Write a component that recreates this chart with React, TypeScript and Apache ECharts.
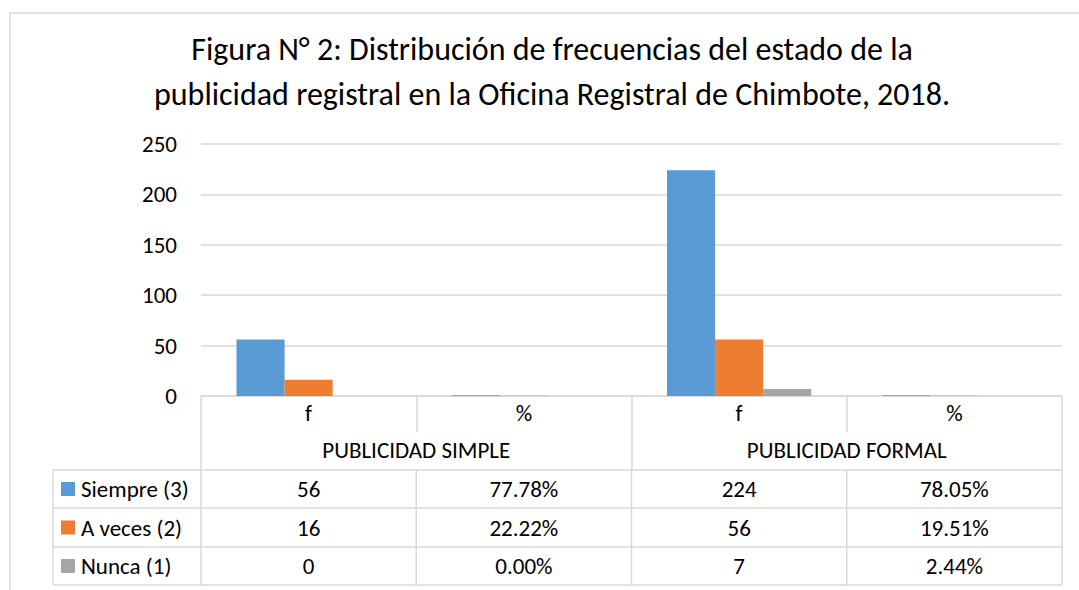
import React, { useEffect, useRef } from "react";
import * as echarts from "echarts";

const categories = ["f", "%", "f", "%"];
const groups = ["PUBLICIDAD SIMPLE", "PUBLICIDAD FORMAL"];
const seriesNames = ["Siempre (3)", "A veces (2)", "Nunca (1)"];
const siempre = [56, 0.7778, 224, 0.7805];
const aVeces = [16, 0.2222, 56, 0.1951];
const nunca = [0, 0, 7, 0.0244];
const yTicks = [0, 50, 100, 150, 200, 250];
const titleText =
  "Figura N° 2: Distribución de frecuencias del estado de la\npublicidad registral en la Oficina Registral de Chimbote, 2018.";

const colors = ["#5B9BD5", "#ED7D31", "#A5A5A5"];
const FONT = 'Carlito, "Open Sans", sans-serif';
const LINE = "#D9D9D9";
const FS = 23;

export default function App() {
  const ref = useRef<HTMLDivElement>(null);
  useEffect(() => {
    if (!ref.current) return;
    const chart = echarts.init(ref.current, null, { renderer: "svg" });
    const W = 1079;
    const H = 590;
    const gridLeft = 201;
    const gridRight = 1062;
    const gridTop = 144;
    const gridBottom = 396;
    const allSeries = [siempre, aVeces, nunca];

    const fmt = (v: number, ci: number) =>
      categories[ci] === "%" ? (v * 100).toFixed(2) + "%" : String(v);

    const option: any = {
      animation: false,
      textStyle: { fontFamily: FONT },
      title: {
        text: titleText,
        left: 547,
        textAlign: "center",
        top: 22,
        textStyle: {
          fontFamily: FONT,
          fontSize: 32,
          fontWeight: "normal",
          color: "#000",
          lineHeight: 45,
        },
      },
      grid: {
        left: gridLeft,
        right: W - gridRight,
        top: gridTop,
        bottom: H - gridBottom,
        containLabel: false,
      },
      xAxis: [
        {
          type: "category",
          data: categories,
          axisLine: { lineStyle: { color: LINE, width: 1.5 } },
          axisTick: { show: true, length: 36, lineStyle: { color: LINE, width: 1.5 } },
          axisLabel: { color: "#000", fontSize: FS, margin: 5, fontFamily: FONT },
        },
        {
          type: "category",
          data: groups,
          position: "bottom",
          offset: 36,
          axisLine: { show: false },
          axisTick: { show: true, length: 38, lineStyle: { color: LINE, width: 1.5 } },
          axisLabel: { color: "#000", fontSize: FS, margin: 6, fontFamily: FONT },
        },
      ],
      yAxis: {
        type: "value",
        min: yTicks[0],
        max: yTicks[yTicks.length - 1],
        interval: 50,
        axisLine: { show: false },
        axisTick: { show: false },
        splitLine: { lineStyle: { color: LINE, width: 1.5 } },
        axisLabel: { color: "#000", fontSize: FS, margin: 24, fontFamily: FONT },
      },
      series: allSeries.map((d, i) => ({
        name: seriesNames[i],
        type: "bar",
        xAxisIndex: 0,
        data: d,
        itemStyle: { color: colors[i] },
        barGap: "0%",
        barCategoryGap: "33%",
      })),
    };

    chart.setOption(option);

    const rowTops = [470, 508, 547];
    const tableBottom = 585;
    const tableLeft = 53;
    const g: any[] = [];
    g.push({
      type: "rect",
      shape: { x: 10, y: 13, width: 1100, height: 600 },
      style: { fill: "none", stroke: LINE, lineWidth: 1.5 },
      silent: true,
    });
    const centers: number[] = categories.map(
      (_, i) => chart.convertToPixel({ xAxisIndex: 0 }, i) as number
    );
    const colW = (gridRight - gridLeft) / categories.length;
    const bounds = [gridLeft];
    for (let i = 0; i < categories.length; i++) bounds.push(gridLeft + colW * (i + 1));
    [...rowTops, tableBottom].forEach((y) =>
      g.push({
        type: "line",
        shape: { x1: tableLeft, y1: y, x2: gridRight, y2: y },
        style: { stroke: LINE, lineWidth: 1.5 },
        silent: true,
      })
    );
    [tableLeft, ...bounds].forEach((x) =>
      g.push({
        type: "line",
        shape: { x1: x, y1: rowTops[0], x2: x, y2: tableBottom },
        style: { stroke: LINE, lineWidth: 1.5 },
        silent: true,
      })
    );
    const rowBottoms = [rowTops[1], rowTops[2], tableBottom];
    allSeries.forEach((d, r) => {
      const cy = (rowTops[r] + rowBottoms[r]) / 2;
      g.push({
        type: "rect",
        shape: { x: 61, y: cy - 7, width: 14, height: 14 },
        style: { fill: colors[r] },
        silent: true,
      });
      g.push({
        type: "text",
        x: 81,
        y: cy,
        style: {
          text: seriesNames[r],
          fontSize: FS,
          fontFamily: FONT,
          fill: "#000",
          verticalAlign: "middle",
          align: "left",
        },
        silent: true,
      });
      d.forEach((v, ci) => {
        g.push({
          type: "text",
          x: centers[ci],
          y: cy,
          style: {
            text: fmt(v, ci),
            fontSize: FS,
            fontFamily: FONT,
            fill: "#000",
            verticalAlign: "middle",
            align: "center",
          },
          silent: true,
        });
      });
    });
    chart.setOption({ graphic: g });

    return () => chart.dispose();
  }, []);
  return (
    <div
      ref={ref}
      style={{ position: "fixed", left: 0, top: 0, width: 1079, height: 590, background: "#fff" }}
    />
  );
}
